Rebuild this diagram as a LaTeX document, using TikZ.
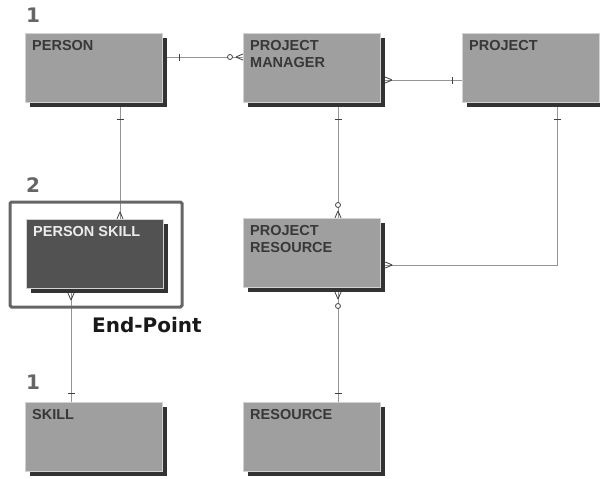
\documentclass[tikz,border=0pt]{standalone}
\usepackage{fontspec}
\setmainfont{Liberation Sans}
\newfontfamily\tagfont{DejaVu Sans}
\usepackage{tikz}
\usetikzlibrary{arrows.meta,positioning,shadows,decorations.markings}

\newcommand\entityfont{\bfseries\fontsize{14.5}{17.5}\selectfont}
\newcommand\numfont{\tagfont\bfseries\fontsize{20}{24}\selectfont}

\tikzset{
  entity/.style={draw=gray!35, fill=gray!75, line width=0.8pt, anchor=north west,
    minimum width=137pt, minimum height=69pt, inner sep=0pt, outer sep=0pt,
    drop shadow={shadow xshift=5pt, shadow yshift=-5pt, fill=black!80, opacity=1},
    label={[etitle]north west:{#1}}},
  dentity/.style={entity={\color{gray!15}#1}, fill=black!68},
  etitle/.style={anchor=north west, inner sep=0pt, xshift=7pt, yshift=-7pt,
    align=left, font=\entityfont, text=black!78},
  link/.style={draw=black!42, line width=0.8pt},
  marker/.style={draw=black!75, line width=0.8pt},
  % cardinality marks along a link
  tick/.style={postaction={decorate, decoration={markings,
    mark=at position #1 with {\draw[marker] (0,-3.5pt) -- (0,3.5pt);}}}},
  ring/.style={postaction={decorate, decoration={markings,
    mark=at position #1 with {\draw[marker, fill=white] (0,0) circle (2.5pt);}}}},
  crow end/.style={postaction={decorate, decoration={markings,
    mark=at position 0.999 with {\draw[marker] (-7pt,0) -- (0,3pt) (-7pt,0) -- (0,-3pt);}}}},
  crow start/.style={postaction={decorate, decoration={markings,
    mark=at position 0.001 with {\draw[marker] (7pt,0) -- (0,3pt) (7pt,0) -- (0,-3pt);}}}},
  frame/.style={draw=black!60, line width=3pt, rounded corners=1.5pt},
  num/.style={anchor=base west, inner sep=0pt, font=\numfont, text=black!60}
}

\begin{document}
\begin{tikzpicture}[x=1pt,y=-1pt]
  \useasboundingbox[fill=white] (0,0) rectangle (600,479);

  % Entities
  \node[entity=PERSON] (person) at (25,33) {};
  \node[entity={PROJECT\\MANAGER}] (projmgr) at (243,33) {};
  \node[entity=PROJECT] (project) at (462,33) {};
  \node[dentity={PERSON SKILL}] (pskill) at (26,219) {};
  \node[entity={PROJECT\\RESOURCE}] (projres) at (243,218) {};
  \node[entity=SKILL] (skill) at (25,402) {};
  \node[entity=RESOURCE] (resource) at (243,402) {};

  % Relationships
  \draw[link, tick=12pt, ring=-13pt, crow end]
    ([xshift=5pt,yshift=10.5pt]person.east) coordinate (a1) -- (a1 -| projmgr.west);
  \draw[link, tick=12pt, crow end]
    ([xshift=26.5pt,yshift=-5pt]person.south) coordinate (a2) -- (a2 |- pskill.north);
  \draw[link, crow start, tick=-9pt]
    ([xshift=-23.5pt,yshift=-5pt]pskill.south) coordinate (a3) -- (a3 |- skill.north);
  \draw[link, crow start, tick=-10pt]
    ([xshift=5pt,yshift=-12.5pt]projmgr.east) coordinate (a4) -- (a4 -| project.west);
  \draw[link, tick=12pt, ring=-13pt, crow end]
    ([xshift=26.5pt,yshift=-5pt]projmgr.south) coordinate (a5) -- (a5 |- projres.north);
  \draw[link, tick=12pt, crow end]
    ([xshift=26.5pt,yshift=-5pt]project.south) |- ([xshift=5pt,yshift=-12.5pt]projres.east);
  \draw[link, crow start, ring=14pt, tick=-9pt]
    ([xshift=26.5pt,yshift=-5pt]projres.south) coordinate (a7) -- (a7 |- resource.north);

  % Highlight round the end point
  \draw[frame] ([xshift=-16pt,yshift=17pt]pskill.north west)
    rectangle ([xshift=19pt,yshift=-19pt]pskill.south east);

  % Counts and caption
  \node[num] (n1) at (26,23) {1};
  \node[num] (n2) at (26,192) {2};
  \node[num] (n3) at (26,389) {1};
  \node[num, text=black!90] (ep) at (92,332) {End-Point};
\end{tikzpicture}
\end{document}
